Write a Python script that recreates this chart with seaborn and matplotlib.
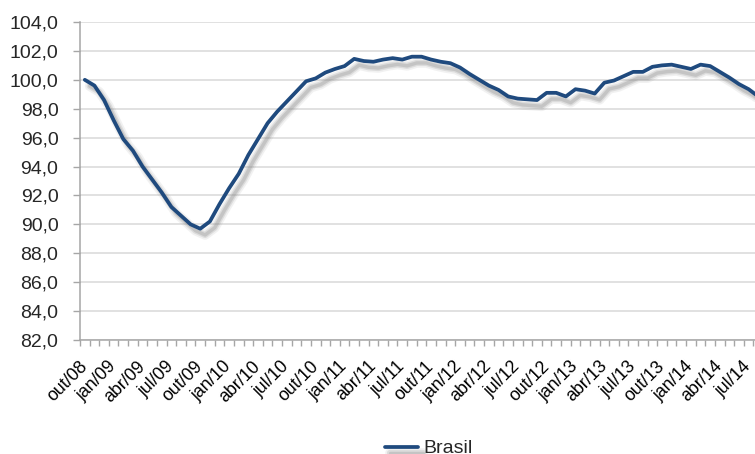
import matplotlib
matplotlib.use("Agg")
import matplotlib.pyplot as plt
import matplotlib.patheffects as pe
from matplotlib.ticker import FixedLocator, FuncFormatter
import pandas as pd
import seaborn as sns

# monthly index, out/08 = 100
meses = ["jan", "fev", "mar", "abr", "mai", "jun",
         "jul", "ago", "set", "out", "nov", "dez"]
brasil = [100.0, 99.6, 98.6, 97.2, 95.9, 95.1, 94.0, 93.1, 92.2, 91.2,
          90.6, 90.0, 89.7, 90.2, 91.4, 92.5, 93.5, 94.8, 95.9, 97.0,
          97.8, 98.5, 99.2, 99.9, 100.1, 100.5, 100.75, 100.95, 101.45, 101.3,
          101.25, 101.4, 101.5, 101.4, 101.6, 101.6, 101.4, 101.25, 101.15, 100.85,
          100.4, 100.0, 99.6, 99.3, 98.85, 98.7, 98.65, 98.6, 99.1, 99.1,
          98.85, 99.35, 99.25, 99.05, 99.8, 99.95, 100.25, 100.55, 100.55, 100.9,
          101.0, 101.05, 100.9, 100.75, 101.05, 100.95, 100.55, 100.15, 99.7, 99.35,
          98.85]

# labels: out/08 onwards
rotulos = []
for i in range(len(brasil)):
    m = 9 + i
    rotulos.append(f"{meses[m % 12]}/{8 + m // 12:02d}")

df = pd.DataFrame({"idx": range(len(brasil)), "Brasil": brasil})


def main():
    sns.set_style("white")
    plt.rcParams["font.family"] = ["Liberation Sans", "DejaVu Sans"]

    fig = plt.figure(figsize=(7.55, 4.54), dpi=100)
    ax = fig.add_axes([80 / 755, 114 / 454, 675 / 755, 318 / 454])

    shadow = [pe.SimpleLineShadow(offset=(3.5, -4.5), shadow_color="#7f7f7f", alpha=0.10, linewidth=7),
              pe.SimpleLineShadow(offset=(3.5, -4.5), shadow_color="#7f7f7f", alpha=0.18, linewidth=4.5),
              pe.SimpleLineShadow(offset=(3.5, -4.5), shadow_color="#7f7f7f", alpha=0.25, linewidth=2.5),
              pe.Normal()]
    sns.lineplot(data=df, x="idx", y="Brasil", ax=ax, color="#1F4A7E",
                 linewidth=2.7, label="Brasil", legend=False,
                 path_effects=shadow)

    ax.set_xlim(-0.5, 69.66)
    ax.set_ylim(82, 104)
    ax.set_xlabel("")
    ax.set_ylabel("")

    ax.yaxis.set_major_locator(FixedLocator([82 + 2 * k for k in range(12)]))
    ax.yaxis.set_major_formatter(FuncFormatter(lambda v, p: f"{v:.1f}".replace(".", ",")))
    ax.grid(axis="y", color="#d9d9d9", linewidth=1.1)
    ax.set_axisbelow(True)

    pos = list(range(0, len(brasil), 3))
    ax.set_xticks(pos)
    ax.set_xticklabels([rotulos[p] for p in pos], rotation=45, ha="right",
                       va="center", rotation_mode="anchor")
    ax.xaxis.set_minor_locator(FixedLocator([k - 0.5 for k in range(len(brasil) + 1)]))
    ax.tick_params(axis="x", which="major", length=0, pad=17, labelsize=12.8, colors="#000000")
    ax.tick_params(axis="x", which="minor", length=4, width=1, color="#a6a6a6", direction="out")
    ax.tick_params(axis="y", which="major", length=5, width=1, color="#a6a6a6",
                   labelsize=14, pad=10.5, direction="out")
    ax.tick_params(axis="x", bottom=True, which="both")
    ax.tick_params(axis="y", left=True)
    for t in ax.get_xticklabels():
        t.set_color("black")

    for s in ["top", "right"]:
        ax.spines[s].set_visible(False)
    for s in ["left", "bottom"]:
        ax.spines[s].set_color("#a6a6a6")
        ax.spines[s].set_linewidth(1.1)

    h, l = ax.get_lines()[:1], ["Brasil"]
    fig.legend(h, l, loc="center", bbox_to_anchor=(0.568, 0.012), frameon=False,
               fontsize=14, handlelength=1.7, handletextpad=0.3)

    fig.savefig("out.png", dpi=100)


if __name__ == "__main__":
    main()
